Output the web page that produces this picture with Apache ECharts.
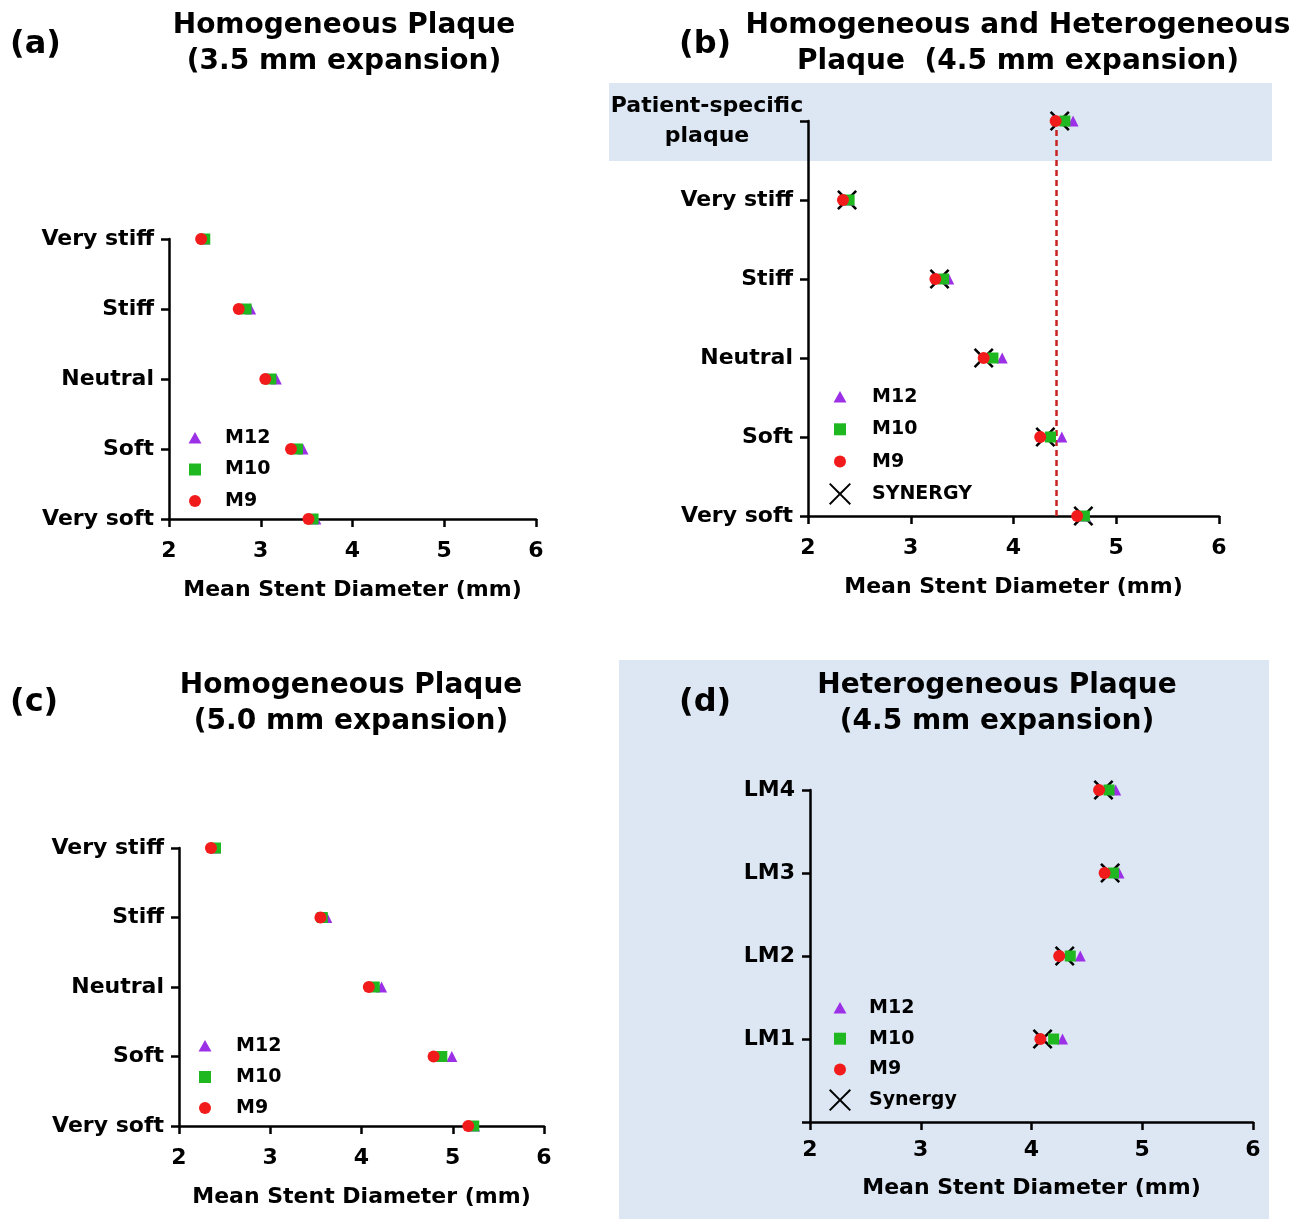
<!DOCTYPE html>
<html>
<head>
<meta charset="utf-8">
<script src="https://cdn.jsdelivr.net/npm/echarts@6/dist/echarts.min.js"></script>
<style>
html,body{margin:0;padding:0;background:#fff;}
#chart{width:1306px;height:1219px;}
</style>
</head>
<body>
<div id="chart"></div>
<script>
// ---------- DATA ----------
const catsA = ['Very soft', 'Soft', 'Neutral', 'Stiff', 'Very stiff'];
const aM9  = [3.52, 3.33, 3.05, 2.76, 2.35];
const aM10 = [3.57, 3.40, 3.11, 2.84, 2.39];
const aM12 = [3.60, 3.46, 3.17, 2.89, 2.39];

const catsB = ['Very soft', 'Soft', 'Neutral', 'Stiff', 'Very stiff', 'Patient-specific plaque'];
const bM9  = [4.62, 4.26, 3.71, 3.24, 2.34, 4.41];
const bM10 = [4.69, 4.36, 3.80, 3.32, 2.40, 4.50];
const bM12 = [4.70, 4.47, 3.89, 3.37, 2.40, 4.58];
const bSyn = [4.68, 4.31, 3.71, 3.28, 2.38, 4.45];
const bRefLine = 4.42;

const catsC = ['Very soft', 'Soft', 'Neutral', 'Stiff', 'Very stiff'];
const cM9  = [5.17, 4.79, 4.08, 3.55, 2.35];
const cM10 = [5.23, 4.88, 4.14, 3.57, 2.40];
const cM12 = [5.24, 4.99, 4.22, 3.62, 2.40];

const catsD = ['LM1', 'LM2', 'LM3', 'LM4'];
const dM9  = [4.08, 4.25, 4.66, 4.61];
const dM10 = [4.20, 4.35, 4.74, 4.70];
const dM12 = [4.28, 4.44, 4.79, 4.76];
const dSyn = [4.10, 4.30, 4.71, 4.65];

const xTicks = [2, 3, 4, 5, 6];
const titles = ['Homogeneous Plaque\n(3.5 mm expansion)', 'Homogeneous and Heterogeneous\nPlaque  (4.5 mm expansion)',
                'Homogeneous Plaque\n(5.0 mm expansion)', 'Heterogeneous Plaque\n(4.5 mm expansion)'];
const panelLabels = ['(a)', '(b)', '(c)', '(d)'];
const xName = 'Mean Stent Diameter (mm)';

// ---------- STYLE ----------
const FONT = '"DejaVu Sans", sans-serif';
const C9 = '#f21b1b', C10 = '#20b820', C12 = '#9b30e6', CX = '#000';
const XSYM = 'path://M0,1.8 L1.8,0 L10,8.2 L18.2,0 L20,1.8 L11.8,10 L20,18.2 L18.2,20 L10,11.8 L1.8,20 L0,18.2 L8.2,10 Z';
const ICON_TRI = 'path://M0,0 M22,22 M11,5 L17.5,16.5 L4.5,16.5 Z';
const ICON_SQ = 'path://M0,0 M22,22 M5,5 L17,5 L17,17 L5,17 Z';
const ICON_CI = 'path://M0,0 M22,22 M17,11 A6,6 0 1 1 5,11 A6,6 0 1 1 17,11 Z';
const ICON_X = 'path://M0,1.4 L1.4,0 L11,9.6 L20.6,0 L22,1.4 L12.4,11 L22,20.6 L20.6,22 L11,12.4 L1.4,22 L0,20.6 L9.6,11 Z';

const grids = [
  {left: 169, top: 239, width: 367, height: 280},
  {left: 808, top: 121, width: 411, height: 395},
  {left: 179, top: 848, width: 365, height: 278},
  {left: 810, top: 790, width: 443, height: 332}
];
const nameGaps = [60, 60, 60, 55];
const labelMargins = [21, 21, 21, 17];

const xAxes = grids.map((g, i) => ({
  type: 'value', gridIndex: i, min: xTicks[0], max: xTicks[xTicks.length - 1], interval: 1,
  axisLine: {show: true, onZero: false, lineStyle: {color: '#000', width: 2.5}},
  axisTick: {show: true, length: 8, lineStyle: {color: '#000', width: 2.5}},
  splitLine: {show: false},
  axisLabel: {fontFamily: FONT, fontSize: 22, fontWeight: 'bold', color: '#000', margin: labelMargins[i]},
  name: xName, nameLocation: 'middle', nameGap: nameGaps[i],
  nameTextStyle: {fontFamily: FONT, fontSize: 22, fontWeight: 'bold', color: '#000'}
}));

const yCats = [catsA, catsB, catsC, [''].concat(catsD)];
const yAxes = yCats.map((cats, i) => ({
  type: 'category', gridIndex: i, data: cats, boundaryGap: false,
  axisLine: {show: true, onZero: false, lineStyle: {color: '#000', width: 2.5}},
  axisTick: {show: true, length: 8, lineStyle: {color: '#000', width: 2.5}},
  splitLine: {show: false},
  axisLabel: {
    fontFamily: FONT, fontSize: 22, fontWeight: 'bold', color: '#000', margin: 15,
    formatter: v => v === 'Patient-specific plaque' ? '{ps|Patient-specific}\n{ps|plaque}' : v,
    rich: {ps: {fontFamily: FONT, fontSize: 22, fontWeight: 'bold', color: '#000', lineHeight: 30, width: 172, align: 'center'}}
  }
}));

function pts(vals, cats) { return vals.map((v, k) => [v, cats[k]]); }
function sc(name, gi, vals, cats, symbol, size, color) {
  return {
    type: 'scatter', name: name, xAxisIndex: gi, yAxisIndex: gi, z: 10,
    symbol: symbol, symbolSize: size, itemStyle: {color: color, opacity: 1},
    emphasis: {disabled: true}, silent: true,
    data: pts(vals, cats)
  };
}

const series = [
  sc('M12', 0, aM12, catsA, 'triangle', 11, C12),
  sc('M10', 0, aM10, catsA, 'rect', 11, C10),
  sc('M9', 0, aM9, catsA, 'circle', 12, C9),

  Object.assign(sc('SYNERGY', 1, bSyn, catsB, XSYM, 20, CX), {
    markLine: {symbol: 'none', silent: true, label: {show: false},
      lineStyle: {type: [6, 4], color: '#c62323', width: 2.5},
      data: [{xAxis: bRefLine}]}
  }),
  sc('M12', 1, bM12, catsB, 'triangle', 11, C12),
  sc('M10', 1, bM10, catsB, 'rect', 11, C10),
  sc('M9', 1, bM9, catsB, 'circle', 12, C9),

  sc('M12', 2, cM12, catsC, 'triangle', 11, C12),
  sc('M10', 2, cM10, catsC, 'rect', 11, C10),
  sc('M9', 2, cM9, catsC, 'circle', 12, C9),

  sc('Synergy', 3, dSyn, catsD, XSYM, 20, CX),
  sc('M12', 3, dM12, catsD, 'triangle', 11, C12),
  sc('M10', 3, dM10, catsD, 'rect', 11, C10),
  sc('M9', 3, dM9, catsD, 'circle', 12, C9)
];

function legend(left, top, pad, gap, withX, xName) {
  const d = [{name: 'M12', icon: ICON_TRI}, {name: 'M10', icon: ICON_SQ}, {name: 'M9', icon: ICON_CI}];
  if (withX) d.push({name: xName, icon: ICON_X});
  return {
    orient: 'vertical', left: left, top: top, itemWidth: 22, itemHeight: 22, itemGap: gap,
    selectedMode: false, padding: 0, data: d,
    textStyle: {fontFamily: FONT, fontSize: 19, fontWeight: 'bold', color: '#000', padding: [0, 0, 0, pad], lineHeight: 22}
  };
}

const titleStyle = {fontFamily: FONT, fontSize: 28, fontWeight: 'bold', color: '#000', lineHeight: 36};
const labelStyle = {fontFamily: FONT, fontSize: 32, fontWeight: 'bold', color: '#000', lineHeight: 36};
const titleCfg = [
  {text: titles[0], left: 344, top: 8, textAlign: 'center', padding: 0, textStyle: titleStyle},
  {text: titles[1], left: 1018, top: 8, textAlign: 'center', padding: 0, textStyle: titleStyle},
  {text: titles[2], left: 351, top: 668, textAlign: 'center', padding: 0, textStyle: titleStyle},
  {text: titles[3], left: 997, top: 668, textAlign: 'center', padding: 0, textStyle: titleStyle},
  {text: panelLabels[0], left: 10, top: 27, textAlign: 'left', padding: 0, textStyle: labelStyle},
  {text: panelLabels[1], left: 679, top: 27, textAlign: 'left', padding: 0, textStyle: labelStyle},
  {text: panelLabels[2], left: 10, top: 685, textAlign: 'left', padding: 0, textStyle: labelStyle},
  {text: panelLabels[3], left: 679, top: 685, textAlign: 'left', padding: 0, textStyle: labelStyle}
];

const chart = echarts.init(document.getElementById('chart'), null, {renderer: 'canvas'});
chart.setOption({
  animation: false,
  backgroundColor: '#fff',
  graphic: [
    {type: 'rect', z: -1, silent: true, shape: {x: 609, y: 83, width: 663, height: 78}, style: {fill: '#dce7f3'}},
    {type: 'rect', z: -1, silent: true, shape: {x: 619, y: 660, width: 650, height: 559}, style: {fill: '#dce7f3'}}
  ],
  title: titleCfg,
  grid: grids,
  xAxis: xAxes,
  yAxis: yAxes,
  legend: [
    legend(184, 427, 14, 9.5, false),
    legend(829, 386, 16, 10.3, true, 'SYNERGY'),
    legend(194, 1035, 15, 9, false),
    legend(829, 997, 13, 8.7, true, 'Synergy')
  ],
  series: series
});
</script>
</body>
</html>
